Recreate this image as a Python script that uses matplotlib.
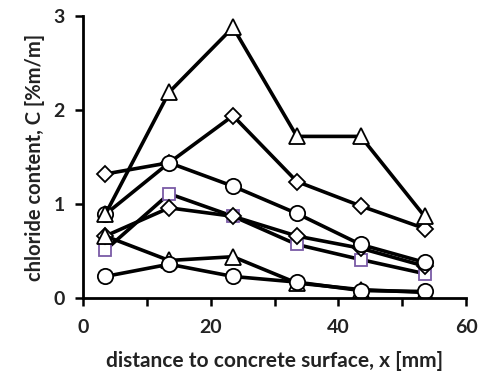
import matplotlib
matplotlib.use("Agg")
import matplotlib.pyplot as plt
from matplotlib.ticker import MultipleLocator

# depth positions [mm]
x = [3.5, 13.5, 23.5, 33.5, 43.5, 53.5]

# chloride profiles [%m/m]
square_mid = [0.51, 1.11, 0.87, 0.57, 0.41, 0.26]
diamond_low = [0.66, 0.96, 0.87, 0.66, 0.53, 0.34]
triangle_low = [0.66, 0.40, 0.44, 0.16, 0.09, 0.06]
circle_low = [0.23, 0.36, 0.23, 0.17, 0.08, 0.07]
circle_up = [0.89, 1.44, 1.19, 0.90, 0.57, 0.38]
diamond_up = [1.32, 1.44, 1.94, 1.24, 0.98, 0.74]
triangle_up = [0.89, 2.19, 2.88, 1.72, 1.72, 0.87]

series = [
    (square_mid, 's', '#7a5ba6', 9),
    (diamond_low, 'D', 'black', 8),
    (triangle_low, '^', 'black', 11),
    (circle_low, 'o', 'black', 11),
    (diamond_up, 'D', 'black', 8),
    (circle_up, 'o', 'black', 11),
    (triangle_up, '^', 'black', 11),
]

plt.rcParams['font.family'] = ['Lato', 'DejaVu Sans']
plt.rcParams['font.weight'] = 'bold'

fig = plt.figure(figsize=(4.85, 3.74), dpi=100)
ax = fig.add_axes([0.171, 0.203, 0.790, 0.754])

for vals, mk, ec, ms in series:
    ax.plot(x, vals, color='black', lw=2.6, marker=mk, ms=ms,
            mfc='white', mec=ec, mew=1.3)

ax.set_xlim(0, 60)
ax.set_ylim(0, 3)
ax.xaxis.set_major_locator(MultipleLocator(20))
ax.xaxis.set_minor_locator(MultipleLocator(10))
ax.yaxis.set_major_locator(MultipleLocator(1))

for s in ['top', 'right']:
    ax.spines[s].set_visible(False)
for s in ['left', 'bottom']:
    ax.spines[s].set_linewidth(2)

ax.tick_params(which='both', direction='out', length=6, width=1.8,
               labelsize=14, pad=9, labelcolor='#222222')
ax.tick_params(axis='y', pad=7)

ax.set_xlabel('distance to concrete surface, x [mm]', fontsize=15,
              fontweight='bold', labelpad=11, color='#222222')
ax.set_ylabel('chloride content, C [%m/m]', fontsize=14.5,
              fontweight='bold', labelpad=6, color='#222222')

fig.savefig('out.png', dpi=100)
